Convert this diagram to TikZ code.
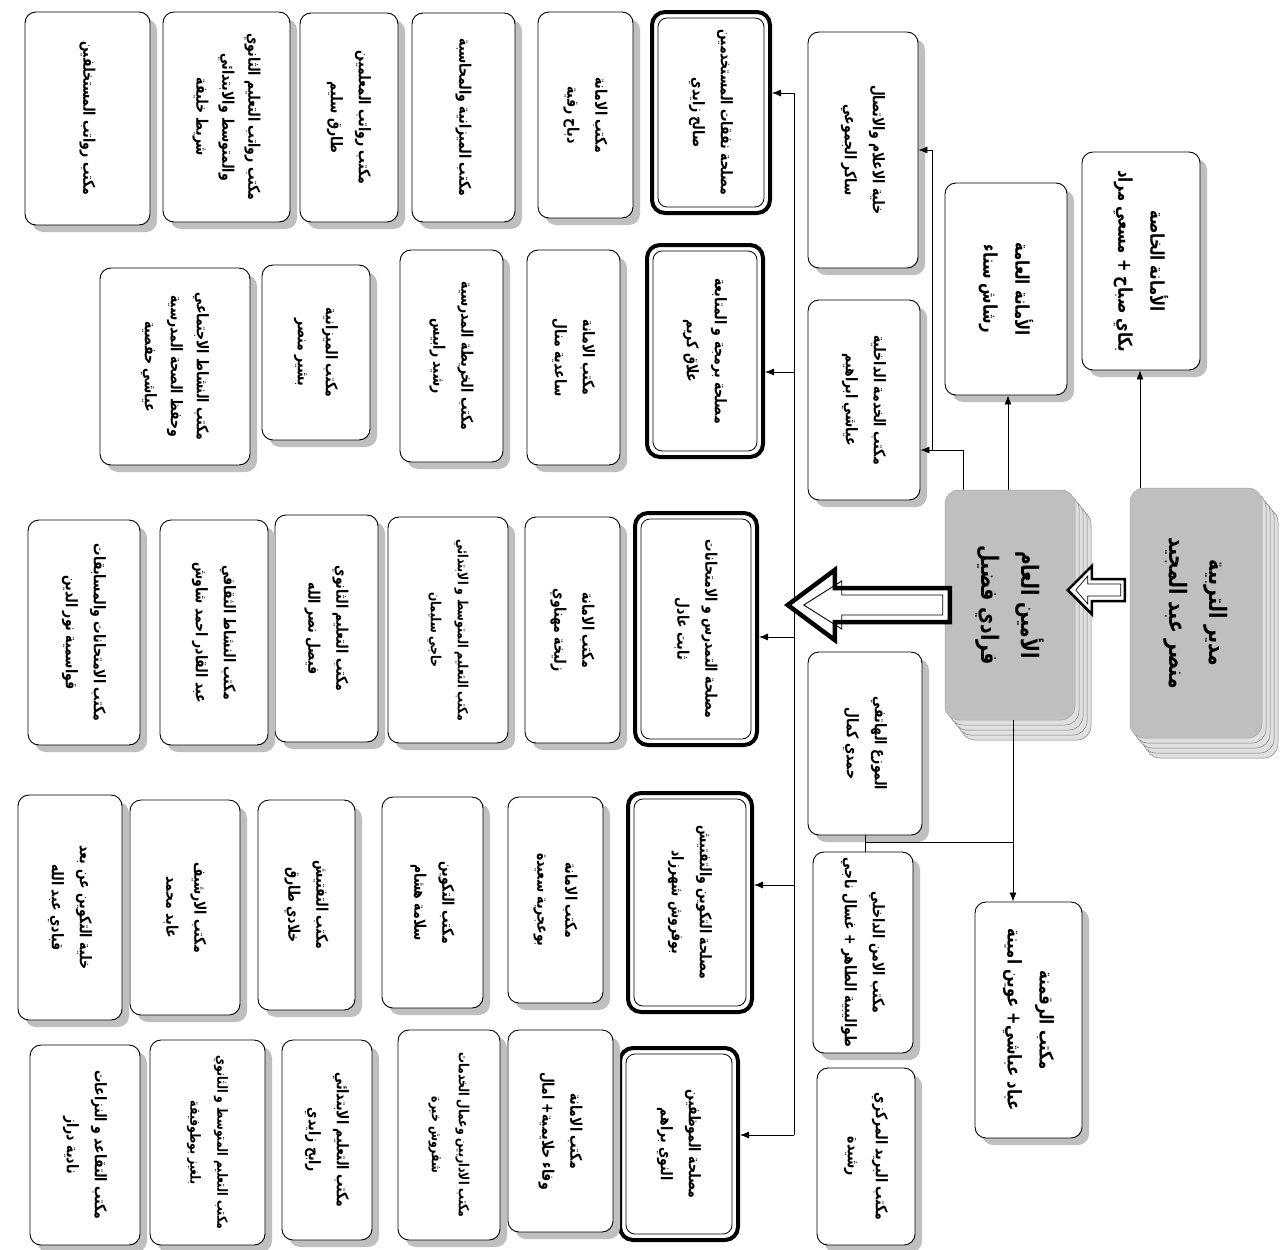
\documentclass[tikz,border=0pt]{standalone}
\usepackage{fontspec}
\TeXXeTstate=1
\newfontfamily\arabicfont[Script=Arabic, FakeStretch=0.78]{DejaVu Sans}
\usetikzlibrary{shadows,arrows.meta,calc}
\newcommand\ar[1]{\beginR #1\endR}
\tikzset{
 plainbox/.style={draw=black, line width=0.9pt, rounded corners=11pt, fill=white, inner sep=0pt,
   drop shadow={shadow xshift=7pt, shadow yshift=-7pt, fill=black!25, opacity=1}},
 svcbox/.style={draw=black, line width=4pt, rounded corners=13pt, fill=white, inner sep=0pt},
 greybox/.style={fill=black!25, draw=black!35, line width=0.5pt, rounded corners=14pt, inner sep=0pt},
 layer/.style={fill=black!12, draw=black!50, line width=0.5pt, rounded corners=14pt},
 txt/.style={rotate=-90, align=center, inner sep=0pt, font=\arabicfont\bfseries\fontsize{16}{28}\selectfont},
 tighttxt/.style={font=\arabicfont\bfseries\fontsize{16}{26}\selectfont},
 smalltxt/.style={font=\arabicfont\bfseries\fontsize{14}{27}\selectfont},
 midtxt/.style={font=\arabicfont\bfseries\fontsize{19}{32}\selectfont},
 bigtxt/.style={font=\arabicfont\bfseries\fontsize{24}{40}\selectfont},
 conn/.style={line width=0.8pt, -{Latex[length=9pt,width=7pt]}},
 wire/.style={line width=0.8pt},
}
\newcommand\mkbox[7][]{%
  \node[plainbox, minimum width={#5pt-#3pt}, minimum height={#6pt-#4pt}] (#2) at ({(#3+#5)/2},{(#4+#6)/2}) {};
  \node[txt,#1] (#2t) at (#2.center) {#7};}
\newcommand\mksvc[7][]{%
  \node[svcbox, minimum width={#5pt-#3pt}, minimum height={#6pt-#4pt}] (#2) at ({(#3+#5)/2},{(#4+#6)/2}) {};
  \draw[line width=0.8pt, rounded corners=9pt] ({#3+6},{#4+6}) rectangle ({#5-6},{#6-6});
  \node[txt,#1] (#2t) at (#2.center) {#7};}
\begin{document}
\begin{tikzpicture}[x=1pt,y=-1pt]
\fill[white] (0,0) rectangle (1280,1250);
\useasboundingbox (0,0) rectangle (1280,1250);

% ---- director
\foreach \k in {4,3,2,1} {
  \draw[layer] ({1130+4*\k},{488+5*\k}) rectangle ({1262+4*\k},{738+5*\k});
}
\node[greybox, minimum width=132pt, minimum height=250pt] (dir) at (1196,613) {};
\node[txt,bigtxt] (dirt) at (dir.center) {\ar{مدير التربية}\\\ar{منصر عبد المجيد}};

% ---- secretary general
\foreach \k in {4,3,2,1} {
  \draw[layer] ({945+4*\k},{490+5*\k}) rectangle ({1075+4*\k},{720+5*\k});
}
\node[greybox, minimum width=130pt, minimum height=230pt] (sg) at (1010,605) {};
\node[txt,bigtxt] (sgt) at (sg.center) {\ar{الأمين العام}\\\ar{فرادي فضيل}};

% ---- column 1 / 2 boxes
\mkbox[midtxt]{priv}{1082}{152}{1200}{370}{\ar{الأمانة الخاصة}\\\ar{بكاي صباح + مسعي مراد}}
\mkbox[midtxt]{ga}{945}{183}{1067}{395}{\ar{الأمانة العامة}\\\ar{رشاش سناء}}
\mkbox[midtxt]{digit}{975}{902}{1082}{1138}{\ar{مكتب الرقمنة}\\\ar{عباد عباشي+ عوين امينة}}

% ---- column 3
\mkbox{info}{808}{32}{918}{268}{\ar{خلية الاعلام والاتصال}\\\ar{ساكر الجموعي}}
\mkbox{intsvc}{808}{300}{920}{500}{\ar{مكتب الخدمة الداخلية}\\\ar{عياشي ابراهيم}}
\mkbox{phone}{808}{652}{922}{835}{\ar{الموزع الهاتفي}\\\ar{حمدي كمال}}
\mkbox{sec}{813}{852}{913}{1053}{\ar{مكتب الامن الداخلي}\\\ar{طواليبية الطاهر + غسال ناجي}}
\mkbox{post}{817}{1068}{915}{1245}{\ar{مكتب البريد المركزي}\\\ar{رشيدة}}

% ---- services
\mksvc{s1}{652}{12}{770}{213}{\ar{مصلحة نفقات المستخدمين}\\\ar{صالح زايدي}}
\mksvc{s2}{647}{245}{763}{457}{\ar{مصلحة برمجة و المتابعة}\\\ar{علاق كريم}}
\mksvc{s3}{635}{513}{757}{745}{\ar{مصلحة التمدرس و الامتحانات}\\\ar{ثابت عادل}}
\mksvc{s4}{628}{793}{752}{1012}{\ar{مصلحة التكوين والتفتيش}\\\ar{بوفروش شهرزاد}}
\mksvc{s5}{620}{1048}{738}{1240}{\ar{مصلحة الموظفين}\\\ar{النوي براهم}}

% ---- row 1
\mkbox{r1c5}{538}{12}{633}{218}{\ar{مكتب الامانة}\\\ar{دباح رقية}}
\mkbox{r1c6}{412}{13}{515}{222}{\ar{مكتب الميزانية والمحاسبة}}
\mkbox{r1c7}{300}{13}{398}{222}{\ar{مكتب رواتب المعلمين}\\\ar{طارق سليم}}
\mkbox[tighttxt]{r1c8}{163}{12}{290}{222}{\ar{مكتب رواتب التعليم الثانوي}\\\ar{والمتوسط والابتدائي}\\\ar{شريط خليفة}}
\mkbox{r1c9}{25}{12}{150}{225}{\ar{مكتب رواتب المستخلفين}}
% ---- row 2
\mkbox{r2c5}{527}{250}{620}{465}{\ar{مكتب الامانة}\\\ar{ساعدية منال}}
\mkbox{r2c6}{400}{250}{503}{462}{\ar{مكتب الخريطة المدرسية}\\\ar{رشيد رابيس}}
\mkbox{r2c7}{262}{265}{370}{440}{\ar{مكتب الميزانية}\\\ar{بشير منصر}}
\mkbox[tighttxt]{r2c8}{100}{268}{250}{465}{\ar{مكتب النشاط الاجتماعي}\\\ar{وحفظ الصحة المدرسية}\\\ar{عياشي حفصية}}
% ---- row 3
\mkbox{r3c5}{525}{517}{620}{743}{\ar{مكتب الامانة}\\\ar{زليخة مهناوي}}
\mkbox[smalltxt]{r3c6}{388}{517}{508}{743}{\ar{مكتب التعليم المتوسط و الابتدائي}\\\ar{حاجي سليمان}}
\mkbox{r3c7}{275}{515}{378}{742}{\ar{مكتب التعليم الثانوي}\\\ar{فيصل نصر الله}}
\mkbox{r3c8}{160}{520}{268}{745}{\ar{مكتب النشاط الثقافي}\\\ar{عبد القادر احمد شاوش}}
\mkbox{r3c9}{28}{520}{140}{745}{\ar{مكتب الامتحانات والمسابقات}\\\ar{قواسمية نور الدين}}
% ---- row 4
\mkbox{r4c5}{508}{797}{603}{1003}{\ar{مكتب الامانة}\\\ar{بوعجرية سعيدة}}
\mkbox{r4c6}{382}{797}{483}{1008}{\ar{مكتب التكوين}\\\ar{سلامة هشام}}
\mkbox{r4c7}{258}{800}{355}{1010}{\ar{مكتب التفتيش}\\\ar{خلادي طارق}}
\mkbox{r4c8}{130}{800}{240}{1015}{\ar{مكتب الارشيف}\\\ar{عابد محمد}}
\mkbox{r4c9}{18}{795}{122}{1020}{\ar{خلية التكوين عن بعد}\\\ar{قبادي عبد الله}}
% ---- row 5
\mkbox{r5c5}{508}{1030}{613}{1232}{\ar{مكتب الامانة}\\\ar{وفاء حلايمية+ امال}}
\mkbox[smalltxt]{r5c6}{398}{1030}{500}{1240}{\ar{مكتب الاداريين وعمال الخدمات}\\\ar{شقروش خيرة}}
\mkbox{r5c7}{282}{1040}{372}{1240}{\ar{مكتب التعليم الابتدائي}\\\ar{رابح زايدي}}
\mkbox[smalltxt]{r5c8}{150}{1040}{265}{1245}{\ar{مكتب التعليم المتوسط و الثانوي}\\\ar{بلغيز بوطوفيقة}}
\mkbox{r5c9}{30}{1045}{140}{1245}{\ar{مكتب التقاعد و النزاعات}\\\ar{نادية دراز}}

% ---- connectors
\draw[conn] ([xshift=-56pt]dir.north) -- ([xshift=-56pt]dir.north |- priv.south);
\draw[conn] ([xshift=-2pt]sg.north) -- ([xshift=-2pt]sg.north |- ga.south);
\coordinate (j1) at (932,450);
\draw[wire] ([xshift=-47pt]sg.north) |- (j1);
\draw[conn] (j1) -- (j1 -| intsvc.east);
\draw[conn] (j1) |- (info.east);
\coordinate (j2) at (865,842);
\draw[conn] ([xshift=3pt]sg.south) -- ([xshift=3pt]sg.south |- digit.north);
\draw[wire] (j2) -- ([xshift=3pt]sg.south |- j2);
\draw[wire] (phone.south -| j2) -- (sec.north -| j2);
% bus
\coordinate (b1) at (794,93);
\coordinate (b2) at (794,372);
\coordinate (b3) at (794,637);
\coordinate (b4) at (794,885);
\coordinate (b5) at (794,1135);
\draw[wire] (b1) -- (b5);
\draw[conn] (b1) -- (b1 -| s1.east);
\draw[conn] (b2) -- (b2 -| s2.east);
\draw[conn] (b3) -- (b3 -| s3.east);
\draw[conn] (b4) -- (b4 -| s4.east);
\draw[conn] (b5) -- (b5 -| s5.east);

% ---- hollow arrow director -> SG
\coordinate (h0) at ($(dir.west)+(-2,-23)$);
\begin{scope}[shift={(h0)}]
\draw[line width=2.5pt, fill=white, line join=miter] (-3,-11) -- (-36,-11) -- (-36,-24) -- (-60,0) -- (-36,24) -- (-36,11) -- (-3,11) -- cycle;
\draw[line width=0.7pt] (-7,-6) -- (-40,-6) -- (-40,-14) -- (-52,0) -- (-40,14) -- (-40,6) -- (-7,6) -- cycle;
\end{scope}
% ---- big hollow arrow SG -> bus
\coordinate (h1) at ($(sg.west)+(5,0)$);
\begin{scope}[shift={(h1)}]
\draw[line width=4.5pt, fill=white, line join=miter] (0,-17) -- (-115,-17) -- (-115,-35) -- (-162,0) -- (-115,35) -- (-115,17) -- (0,17) -- cycle;
\draw[line width=0.9pt] (-7,-10) -- (-108,-10) -- (-108,-24) -- (-146,0) -- (-108,24) -- (-108,10) -- (-7,10) -- cycle;
\end{scope}
\end{tikzpicture}
\end{document}
